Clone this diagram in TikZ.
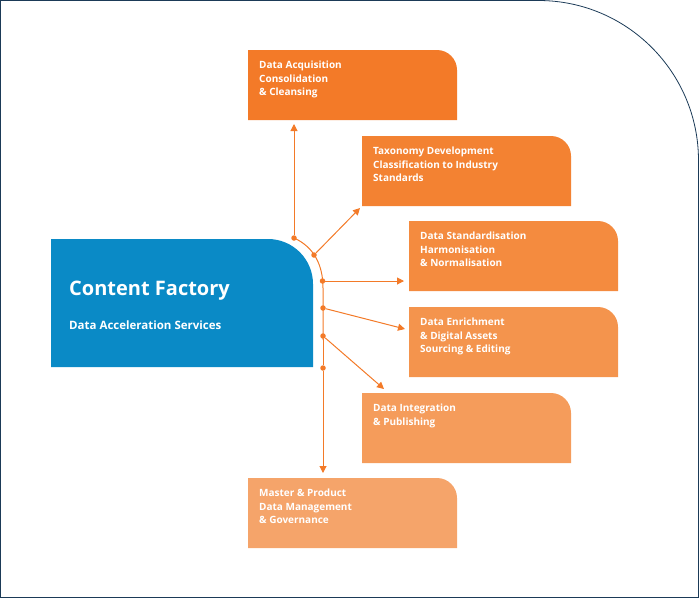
\documentclass[tikz,border=0pt]{standalone}
\usepackage{fontspec}
\setmainfont{Open Sans}
\usetikzlibrary{arrows.meta}
\definecolor{navy}{HTML}{1B3A57}
\definecolor{cfblue}{HTML}{0A8AC6}
\definecolor{orA}{HTML}{F37A28}
\definecolor{orB}{HTML}{F38232}
\definecolor{orC}{HTML}{F48B3F}
\definecolor{orD}{HTML}{F4944D}
\definecolor{orE}{HTML}{F59C5B}
\definecolor{orF}{HTML}{F5A46A}
\tikzset{
  boxtext/.style={anchor=north west, text=white, font=\bfseries\fontsize{10}{13.5}\selectfont, align=left, inner sep=0pt},
  link/.style={orA, line width=1pt, -{Triangle[length=7pt,width=7pt]}},
  dot/.style={circle, fill=orA, inner sep=0pt, minimum size=5.5pt}
}
% #1 name, #2 left, #3 top, #4 colour, #5 text
\newcommand{\cfbox}[5]{
  \fill[#4] (#2,#3+70) -- (#2,#3) [rounded corners=20pt] -- (#2+209,#3) [sharp corners] -- (#2+209,#3+70) -- cycle;
  \node[boxtext] (#1) at (#2+11,#3+11) {#5};
}
\begin{document}
\begin{tikzpicture}[x=1pt,y=-1pt]
\useasboundingbox (0,0) rectangle (699,598);
\draw[navy, line width=0.8pt] (0.5,597.5) -- (0.5,0.5) [rounded corners=160pt] -- (698.5,0.5) [sharp corners] -- (698.5,597.5) -- cycle;

% main box
\fill[cfblue] (51,367) -- (51,239) [rounded corners=45pt] -- (313,239) [sharp corners] -- (313,367) -- cycle;
\node[anchor=west, text=white, font=\bfseries\fontsize{20}{24}\selectfont, inner sep=0pt] (title) at (69,291) {Content Factory};
\node[anchor=west, text=white, font=\bfseries\fontsize{11.5}{14}\selectfont, inner sep=0pt] (sub) at (69,325) {Data Acceleration Services};

% service boxes
\cfbox{acq}{248}{50}{orA}{Data Acquisition\\Consolidation\\\& Cleansing}
\cfbox{tax}{362}{136}{orB}{Taxonomy Development\\Classification to Industry\\Standards}
\cfbox{std}{409}{221}{orC}{Data Standardisation\\Harmonisation\\\& Normalisation}
\cfbox{enr}{409}{307}{orD}{Data Enrichment\\\& Digital Assets\\Sourcing \& Editing}
\cfbox{int}{362}{393}{orE}{Data Integration\\\& Publishing}
\cfbox{mdm}{248}{478}{orF}{Master \& Product\\Data Management\\\& Governance}

% spine
\draw[orA, line width=1pt] (294,238) .. controls (314,247) and (323,265) .. (323,288) -- (323,340);
\node[dot] (d1) at (294,238) {};
\node[dot] (d2) at (314,255) {};
\node[dot] (d3) at (322.5,281) {};
\node[dot] (d4) at (323,308) {};
\node[dot] (d5) at (323,336) {};
\node[dot] (d6) at (323,368) {};
\coordinate (e1) at (294,124);
\coordinate (e2) at (360,208);
\coordinate (e3) at (404,281);
\coordinate (e4) at (405,329);
\coordinate (e5) at (384,389);
\coordinate (e6) at (323,473);
\draw[link] (d1) -- (e1);
\draw[link] (d2) -- (e2);
\draw[link] (d3) -- (e3);
\draw[link] (d4) -- (e4);
\draw[link] (d5) -- (e5);
\draw[link] (d5) -- (d6) -- (e6);
\end{tikzpicture}
\end{document}
